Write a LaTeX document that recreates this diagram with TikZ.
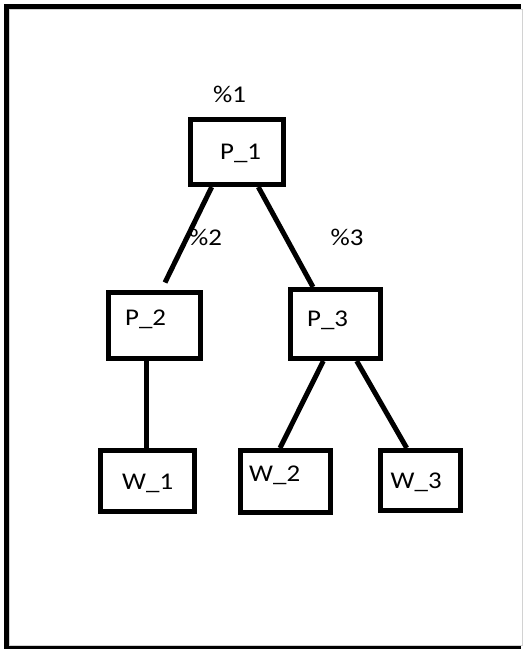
\documentclass[tikz,border=0pt]{standalone}
\usepackage{fontspec}
\setmainfont[FakeStretch=1.12]{Carlito}
\begin{document}
\begin{tikzpicture}[x=1pt,y=-1pt,
  box/.style={draw=black,line width=5pt,rectangle,inner sep=0pt,
    minimum width=#1},
  link/.style={line width=5pt,black},
  txt/.style={inner sep=0pt,anchor=base west,text=black,
    font=\fontsize{24}{26}\selectfont}]
\useasboundingbox (0,0) rectangle (523,649);
% outer frame: thick black band on top, left and bottom
\fill[black] (3.5,3.5) rectangle (521,656);
\fill[white] (9,9) rectangle (523,645.5);
\draw[gray!35,line width=0.8pt] (9,645.5) -- (9,9) -- (522.3,9) -- (522.3,645.5) -- cycle;

% boxes
\node[box=93pt,minimum height=65pt] (P1) at (237,152) {};
\node[box=92pt,minimum height=66pt] (P2) at (154.5,325.5) {};
\node[box=90pt,minimum height=69pt] (P3) at (335.5,324) {};
\node[box=94pt,minimum height=61pt] (W1) at (147.5,481) {};
\node[box=90pt,minimum height=62pt] (W2) at (285.5,481.5) {};
\node[box=80pt,minimum height=60pt] (W3) at (420.5,480.5) {};

% box texts
\node[txt] (tP1) at (220,159) {P\_1};
\node[txt] (tP2) at (125,325.5) {P\_2};
\node[txt] (tP3) at (307,326.5) {P\_3};
\node[txt] (tW1) at (122,489) {W\_1};
\node[txt] (tW2) at (249,481.5) {W\_2};
\node[txt] (tW3) at (390.5,488) {W\_3};

% edge labels
\node[txt] (l1) at (213,102.5) {\%1};
\node[txt] (l2) at (189,245.5) {\%2};
\node[txt] (l3) at (330.5,245.5) {\%3};

% connectors
\draw[link] ([xshift=-25.3pt]P1.south) -- ([xshift=10.5pt,yshift=7.5pt]P2.north);
\draw[link] ([xshift=21.3pt]P1.south) -- ([xshift=-22.5pt]P3.north);
\draw[link] ([xshift=-7.8pt]P2.south) -- ([xshift=-0.8pt]W1.north);
\draw[link] ([xshift=-12.2pt]P3.south) -- ([xshift=-5.5pt]W2.north);
\draw[link] ([xshift=21.2pt]P3.south) -- ([xshift=-13.8pt]W3.north);
\end{tikzpicture}
\end{document}
